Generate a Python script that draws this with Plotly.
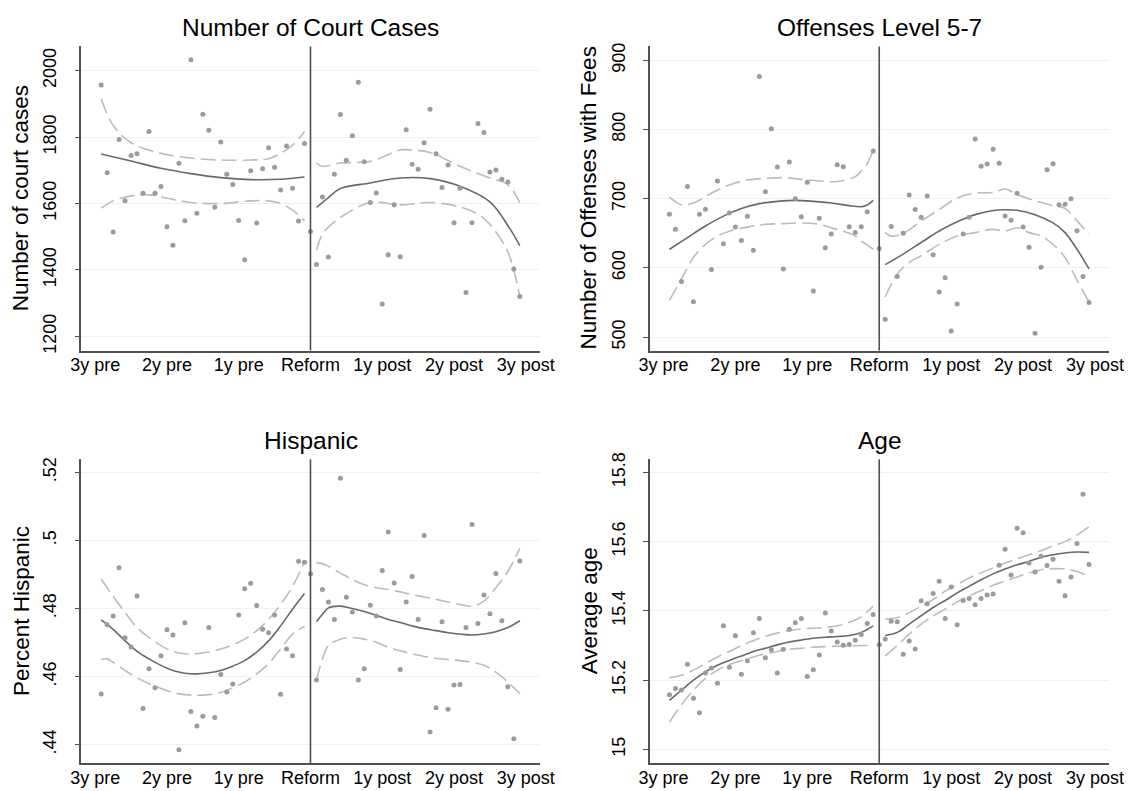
import plotly.graph_objects as go

# ---------------- data ----------------
months = list(range(-35, 36))
tick_vals = [-36, -24, -12, 0, 12, 24, 36]
tick_text = ["3y pre", "2y pre", "1y pre", "Reform", "1y post", "2y post", "3y post"]

titles = ["Number of Court Cases", "Offenses Level 5-7", "Hispanic", "Age"]
ytitles = ["Number of court cases", "Number of Offenses with Fees", "Percent Hispanic", "Average age"]

cases = [1957, 1693, 1514, 1793, 1608, 1745, 1750, 1631, 1817, 1631, 1651, 1530, 1474, 1721, 1548,
         2033, 1571, 1869, 1821, 1589, 1785, 1688, 1657, 1549, 1431, 1699, 1541, 1705, 1768, 1709,
         1641, 1773, 1646, 1547, 1781,
         1516,
         1416, 1620, 1439, 1688, 1868, 1730, 1804, 1965, 1726, 1603, 1632, 1297, 1446, 1596, 1440,
         1822, 1718, 1703, 1783, 1884, 1750, 1648, 1716, 1542, 1646, 1332, 1542, 1841, 1814, 1695,
         1701, 1673, 1665, 1403, 1320]
offenses = [677.6, 655.7, 580.5, 717.6, 551, 677.6, 684.8, 597.6, 725.7, 634.8, 679.5, 659, 639.5,
            674.8, 625.7, 876.7, 710, 801, 745.7, 598.6, 752.9, 700, 673.8, 723.8, 566.7, 671.9, 629,
            649, 749, 746.2, 659.5, 651, 659.5, 681, 769,
            628,
            525.7, 660, 587.6, 650, 705.2, 684.3, 673.3, 703.8, 619, 565.2, 585.7, 509, 548, 649,
            673.3, 786.2, 747.1, 750, 771.4, 751.4, 675.2, 669, 708, 659, 630, 505.7, 601, 742,
            750.5, 691.4, 692, 700, 653.8, 587.6, 550]
hispanic = [.4549, .4752, .4778, .4920, .4714, .4687, .4837, .4506, .4623, .4567, .4661, .4738,
            .4722, .4385, .4758, .4497, .4455, .4483, .4744, .4480, .4606, .4555, .4578, .4781,
            .4858, .4874, .4809, .4739, .4729, .4781, .4548, .4681, .4661, .4939, .4936,
            .4902,
            .4590, .4856, .4819, .4768, .5183, .4833, .4790, .4590, .4623, .4810, .4778, .4912,
            .5025, .4875, .4621, .4819, .4894, .4768, .5015, .4437, .4508, .4761, .4504, .4575,
            .4577, .4744, .5047, .4756, .4840, .4785, .4903, .4764, .4570, .4417, .4940]
age = [15.158, 15.176, 15.172, 15.246, 15.148, 15.106, 15.221, 15.235, 15.191, 15.357, 15.237,
       15.328, 15.217, 15.256, 15.337, 15.378, 15.265, 15.288, 15.221, 15.289, 15.347, 15.366,
       15.378, 15.211, 15.230, 15.273, 15.394, 15.342, 15.310, 15.301, 15.303, 15.315, 15.332,
       15.364, 15.390,
       15.302,
       15.319, 15.370, 15.369, 15.275, 15.313, 15.290, 15.429, 15.421, 15.450, 15.486, 15.378,
       15.469, 15.360, 15.430, 15.436, 15.418, 15.436, 15.446, 15.449, 15.532, 15.578, 15.504,
       15.639, 15.626, 15.538, 15.512, 15.558, 15.531, 15.549, 15.486, 15.444, 15.498, 15.595,
       15.737, 15.534]

# fitted curves: (months, values)
cases_fit_pre = ([-35, -30, -25, -20, -15, -10, -5, -1], [1749, 1728, 1706, 1690, 1678, 1672, 1673, 1680])
cases_hi_pre = ([-35, -33, -30, -25, -20, -15, -10, -7, -5, -3, -1],
                [1915, 1836, 1783, 1751, 1737, 1731, 1731, 1735, 1751, 1776, 1816])
cases_lo_pre = ([-35, -33, -30, -27, -24, -20, -15, -10, -7, -5, -3, -1],
                [1586, 1608, 1623, 1626, 1616, 1603, 1600, 1608, 1608, 1600, 1580, 1548])
cases_fit_post = ([1, 3, 5, 10, 15, 20, 25, 30, 33, 35], [1588, 1618, 1645, 1662, 1677, 1675, 1652, 1605, 1534, 1473])
cases_hi_post = ([1, 2, 3, 5, 10, 15, 17, 20, 25, 30, 33, 35],
                 [1722, 1712, 1714, 1722, 1727, 1761, 1761, 1754, 1712, 1677, 1657, 1603])
cases_lo_post = ([1, 2, 3, 5, 10, 15, 20, 25, 28, 30, 33, 35],
                 [1459, 1509, 1529, 1558, 1603, 1596, 1603, 1590, 1568, 1537, 1454, 1321])

off_fit_pre = ([-35, -32, -29, -26, -23, -20, -17, -14, -11, -8, -5, -3, -2, -1],
               [627, 643.8, 660.5, 674.8, 685.7, 692.9, 696.2, 697.6, 696.2, 693.8, 690, 688.5, 691, 697.6])
off_hi_pre = ([-35, -33, -31, -28, -25, -22, -19, -16, -13, -10, -7, -4, -3, -2, -1],
              [702.4, 691.4, 693.8, 708, 720, 727, 729.5, 730.5, 728, 725.7, 724.8, 731.9, 740, 751, 770])
off_lo_pre = ([-35, -33, -31, -29, -27, -25, -22, -19, -16, -13, -10, -8, -6, -4, -3, -2, -1],
              [553, 584, 615, 634, 646, 653, 659, 663, 664, 665, 663, 658, 653, 646, 639, 633, 627])
off_fit_post = ([1, 4, 7, 10, 13, 16, 19, 21, 23, 26, 29, 31, 33, 35],
                [604.8, 620, 636.7, 653.3, 666.7, 677, 683, 684, 683.3, 677, 665, 651, 627, 598.6])
off_hi_post = ([1, 2, 4, 7, 10, 13, 16, 19, 21, 23, 26, 29, 31, 33, 35],
               [651, 646, 650, 667.6, 684.3, 701, 708, 709, 714, 706, 697, 690, 686, 668, 649])
off_lo_post = ([1, 3, 5, 7, 10, 13, 16, 19, 21, 23, 25, 27, 29, 31, 33, 35],
               [558, 591.4, 608, 617.6, 634, 646, 651, 655.7, 653.3, 658, 651, 646, 634, 615, 582, 551])

hm = [-35, -33, -31, -29, -27, -25, -23, -21, -19, -17, -15, -13, -11, -9, -7, -5, -3, -1]
his_fit_pre = (hm, [.4767, .4739, .4705, .4674, .4652, .4633, .4618, .4610, .4608, .4611, .4618, .4631,
                    .4647, .4672, .4705, .4749, .4798, .4844])
his_hi_pre = (hm, [.4887, .4836, .4788, .4744, .4715, .4691, .4674, .4667, .4667, .4672, .4681, .4693,
                   .4710, .4735, .4768, .4812, .4865, .4938])
his_lo_pre = ([-35, -34] + hm[1:], [.4650, .4652, .4642, .4618, .4596, .4579, .4565, .4553, .4547, .4545,
                                    .4547, .4553, .4567, .4584, .4608, .4638, .4681, .4725, .4747])
hp = [1, 2, 3, 5, 7, 9, 11, 13, 15, 17, 19, 21, 23, 25, 27, 29, 31, 33, 35]
his_fit_post = (hp, [.4761, .4783, .4802, .4807, .4800, .4791, .4780, .4768, .4759, .4749, .4741, .4735,
                     .4729, .4725, .4722, .4725, .4732, .4744, .4764])
his_hi_post = (hp, [.4935, .4932, .4924, .4904, .4885, .4870, .4861, .4856, .4849, .4841, .4834, .4827,
                    .4819, .4812, .4807, .4822, .4861, .4909, .4977])
his_lo_post = (hp, [.4589, .4652, .4691, .4710, .4715, .4710, .4701, .4686, .4676, .4667, .4659, .4654,
                    .4650, .4647, .4642, .4633, .4613, .4584, .4550])

am = hm
age_fit_pre = (am, [15.142, 15.171, 15.200, 15.224, 15.243, 15.257, 15.270, 15.283, 15.292, 15.302,
                    15.310, 15.316, 15.321, 15.324, 15.326, 15.329, 15.338, 15.357])
age_hi_pre = (am, [15.207, 15.214, 15.229, 15.248, 15.267, 15.283, 15.300, 15.314, 15.327, 15.336,
                   15.343, 15.348, 15.350, 15.352, 15.357, 15.367, 15.383, 15.414])
age_lo_pre = (am, [15.079, 15.129, 15.171, 15.205, 15.229, 15.245, 15.257, 15.267, 15.276, 15.283,
                   15.289, 15.292, 15.295, 15.297, 15.298, 15.299, 15.300, 15.300])
ap = list(range(1, 36, 2))
age_fit_post = (ap, [15.329, 15.338, 15.362, 15.386, 15.410, 15.430, 15.452, 15.471, 15.490, 15.507,
                     15.521, 15.533, 15.543, 15.555, 15.562, 15.567, 15.570, 15.569])
age_hi_post = (ap, [15.376, 15.381, 15.395, 15.414, 15.433, 15.457, 15.476, 15.495, 15.510, 15.524,
                    15.538, 15.550, 15.562, 15.574, 15.588, 15.600, 15.619, 15.643])
age_lo_post = (ap, [15.270, 15.300, 15.333, 15.362, 15.386, 15.405, 15.426, 15.443, 15.459, 15.474,
                    15.486, 15.498, 15.510, 15.519, 15.522, 15.521, 15.514, 15.500])

panels = [
    dict(y=cases, fits=[cases_fit_pre, cases_fit_post], cis=[cases_hi_pre, cases_lo_pre, cases_hi_post, cases_lo_post],
         yrange=[1157, 2073], yticks=[1200, 1400, 1600, 1800, 2000], ytext=["1200", "1400", "1600", "1800", "2000"]),
    dict(y=offenses, fits=[off_fit_pre, off_fit_post], cis=[off_hi_pre, off_lo_pre, off_hi_post, off_lo_post],
         yrange=[480.5, 920], yticks=[500, 600, 700, 800, 900], ytext=["500", "600", "700", "800", "900"]),
    dict(y=hispanic, fits=[his_fit_pre, his_fit_post], cis=[his_hi_pre, his_lo_pre, his_hi_post, his_lo_post],
         yrange=[.4345, .5239], yticks=[.44, .46, .48, .50, .52], ytext=[".44", ".46", ".48", ".5", ".52"]),
    dict(y=age, fits=[age_fit_pre, age_fit_post], cis=[age_hi_pre, age_lo_pre, age_hi_post, age_lo_post],
         yrange=[14.96, 15.838], yticks=[15.0, 15.2, 15.4, 15.6, 15.8], ytext=["15", "15.2", "15.4", "15.6", "15.8"]),
]

# ---------------- layout geometry (pixels) ----------------
W, H = 1140, 791
xdoms = [(72, 541), (653, 1123), (72, 541), (653, 1123)]
ydoms = [(40, 348), (40, 348), (458, 766), (458, 766)]
xrange_m = [-38.3, 38.4]

FONT = "Liberation Sans, Arial, Helvetica, sans-serif"
PT_COL = "rgb(155,155,155)"
FIT_COL = "rgb(105,105,105)"
CI_COL = "rgb(188,188,188)"
AX_COL = "rgb(80,80,80)"
GRID_COL = "rgb(234,242,243)"

fig = go.Figure()
layout = dict(width=W, height=H, margin=dict(l=0, r=0, t=0, b=0), showlegend=False,
              plot_bgcolor="white", paper_bgcolor="white", font=dict(family=FONT, color="black"))
annotations = []
shapes = []

for i, p in enumerate(panels):
    n = i + 1
    xa = "x" if n == 1 else f"x{n}"
    ya = "y" if n == 1 else f"y{n}"
    for cx, cy in p["cis"]:
        fig.add_trace(go.Scatter(x=cx, y=cy, mode="lines", xaxis=xa, yaxis=ya,
                                 line=dict(color=CI_COL, width=1.6, dash="15px,6px", shape="spline", smoothing=1.0),
                                 hoverinfo="skip"))
    for fx, fy in p["fits"]:
        fig.add_trace(go.Scatter(x=fx, y=fy, mode="lines", xaxis=xa, yaxis=ya,
                                 line=dict(color=FIT_COL, width=1.6, shape="spline", smoothing=1.0),
                                 hoverinfo="skip"))
    fig.add_trace(go.Scatter(x=months, y=p["y"], mode="markers", xaxis=xa, yaxis=ya,
                             marker=dict(color=PT_COL, size=5, line=dict(width=0))))

    x0, x1 = xdoms[i]
    y0, y1 = ydoms[i]
    xkey = "xaxis" if n == 1 else f"xaxis{n}"
    ykey = "yaxis" if n == 1 else f"yaxis{n}"
    layout[xkey] = dict(domain=[x0 / W, x1 / W], anchor=ya, range=xrange_m,
                        tickmode="array", tickvals=tick_vals, ticktext=tick_text,
                        showgrid=False, zeroline=False, showline=True, linecolor=AX_COL, linewidth=1.5,
                        ticks="", ticklabelstandoff=-3, tickfont=dict(size=18, family=FONT, color="black"))
    layout[ykey] = dict(domain=[1 - y1 / H, 1 - y0 / H], anchor=xa, range=p["yrange"],
                        tickmode="array", tickvals=p["yticks"], ticktext=p["ytext"],
                        showgrid=True, gridcolor=GRID_COL, gridwidth=1, zeroline=False,
                        showline=True, linecolor=AX_COL, linewidth=1.5,
                        ticks="outside", ticklen=5, tickcolor=AX_COL, tickwidth=1.2,
                        ticklabelstandoff=11,
                        tickangle=-90, tickfont=dict(size=18, family=FONT, color="black"))
    shapes.append(dict(type="line", xref=xa, yref=f"{ya} domain", x0=0, x1=0, y0=0, y1=1,
                       line=dict(color=AX_COL, width=1.6), layer="above"))
    annotations.append(dict(text=titles[i], xref="paper", yref="paper", x=(x0 + x1) / 2 / W,
                            y=1 - (y0 - 19) / H, xanchor="center", yanchor="middle", showarrow=False,
                            font=dict(size=24.5, family=FONT, color="black")))
    annotations.append(dict(text=ytitles[i], xref="paper", yref="paper", x=(x0 - 62) / W,
                            y=1 - (y0 + y1) / 2 / H, xanchor="center", yanchor="middle", showarrow=False,
                            textangle=-90, font=dict(size=22.5, family=FONT, color="black")))

layout["annotations"] = annotations
layout["shapes"] = shapes
fig.update_layout(**layout)
fig.write_html("out.html")
